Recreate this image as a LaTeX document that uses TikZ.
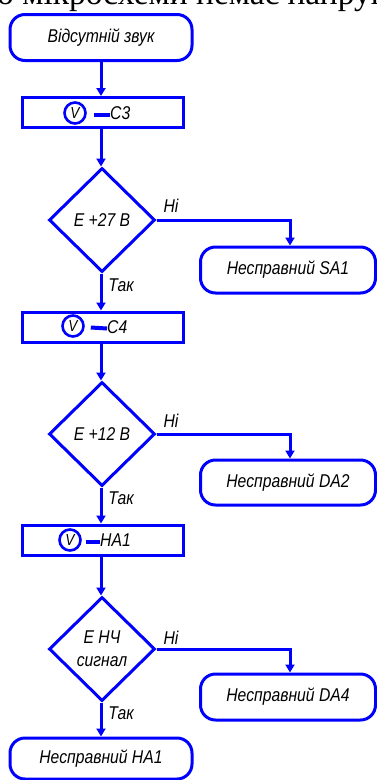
\documentclass[tikz,border=0pt]{standalone}
\usepackage{fontspec}
\setmainfont{Liberation Serif}
\newfontfamily\gost[FakeStretch=0.85]{Liberation Sans}
\usetikzlibrary{shapes.geometric,arrows.meta}
\definecolor{fblue}{RGB}{0,0,255}
\begin{document}
\begin{tikzpicture}[x=1pt,y=-1pt,
  flow/.style={draw=fblue, line width=3pt},
  txt/.style={font=\gost\itshape\fontsize{18.5}{21}\selectfont, text=black},
  term/.style={flow, txt, rectangle, rounded corners=15pt, minimum width=182pt, minimum height=46pt, inner sep=0pt},
  proc/.style={flow, rectangle, minimum width=161pt, minimum height=30pt, inner sep=0pt},
  dec/.style={flow, txt, diamond, minimum width=106pt, minimum height=104pt, inner sep=0pt, align=center},
  vsym/.style={draw=fblue, line width=2.6pt, circle, minimum size=21pt, inner sep=0pt, font=\gost\itshape\fontsize{16}{16}\selectfont},
  dashsym/.style={draw=fblue, line width=4pt},
  lbl/.style={txt, inner sep=0pt},
  arr/.style={draw=fblue, line width=3pt, -{Triangle[width=9pt,length=8pt]}},
]
\useasboundingbox (0,0) rectangle (376,780);
\node[anchor=base west, inner sep=0pt, font=\fontsize{33.5}{38}\selectfont] (hdr) at (-3,4.5) {о мікросхеми немає напруги};

% main column
\node[term] (start) at (101,37.5) {Відсутній звук};
\node[proc] (p1) at (102.5,112.5) {};
\node[dec] (d1) at (102,220) {Е +27 В};
\node[term, minimum width=175pt] (t1) at (288,270) {Несправний SA1};
\node[proc] (p2) at (102.5,327) {};
\node[dec] (d2) at (102,434) {Е +12 В};
\node[term, minimum width=175pt, minimum height=45pt] (t2) at (288,482.5) {Несправний DA2};
\node[proc] (p3) at (102.5,540) {};
\node[dec] (d3) at (102,649) {Е НЧ\\[2pt]сигнал};
\node[term, minimum width=175pt] (t3) at (288,697) {Несправний DA4};
\node[term, minimum height=41pt] (end) at (101,758.5) {Несправний HA1};

% symbols in process boxes
\node[vsym] (v1) at (75,113) {V};
\node[lbl, anchor=west] (c3) at (110,113) {C3};
\draw[dashsym] ([xshift=7pt,yshift=-1.5pt]v1.east) -- ([yshift=-1.5pt]c3.west);

\node[vsym] (v2) at (73,326) {V};
\node[lbl, anchor=west] (c4) at (107,327) {C4};
\draw[dashsym] ([xshift=6pt,yshift=-1.5pt]v2.east) -- ([yshift=-1.5pt]c4.west);

\node[vsym] (v3) at (70,540) {V};
\node[lbl, anchor=west] (ha) at (100,540) {HA1};
\draw[dashsym] ([xshift=4pt,yshift=-1.5pt]v3.east) -- ([yshift=-1.5pt]ha.west);

% connectors
\draw[arr] (start.south) -- (start.south |- p1.north);
\draw[arr] (start.south |- p1.south) -- (start.south |- d1.north);
\draw[arr] (start.south |- d1.south) -- (start.south |- p2.north);
\draw[arr] (start.south |- p2.south) -- (start.south |- d2.north);
\draw[arr] (start.south |- d2.south) -- (start.south |- p3.north);
\draw[arr] (start.south |- p3.south) -- (start.south |- d3.north);
\draw[arr] (start.south |- d3.south) -- (end.north);

\draw[arr] (d1.east) -| ([xshift=2pt]t1.north);
\draw[arr] (d2.east) -| ([xshift=2pt]t2.north);
\draw[arr] (d3.east) -| ([xshift=2pt]t3.north);

% labels
\node[lbl] (n1) at (171,206) {Ні};
\node[lbl] (k1) at (121,285) {Так};
\node[lbl] (n2) at (171,421) {Ні};
\node[lbl] (k2) at (121,498) {Так};
\node[lbl] (n3) at (171,638) {Ні};
\node[lbl] (k3) at (121,713) {Так};
\end{tikzpicture}
\end{document}
